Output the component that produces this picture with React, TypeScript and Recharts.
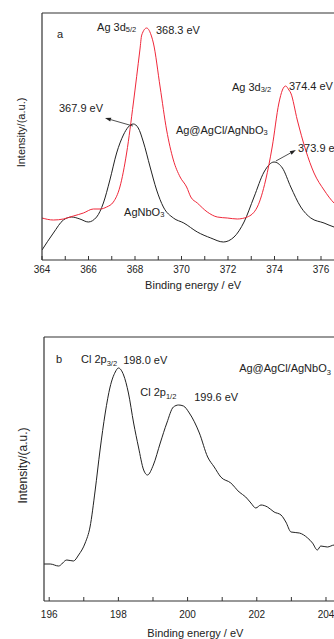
import React from 'react';
import { LineChart, Line, XAxis, YAxis, ReferenceDot, ReferenceLine } from 'recharts';

const FONT = '"Liberation Sans", Arial, sans-serif';
const INK = '#222';

// Ag 3d region (panel a)
const agEnergyBare = [364.0, 364.49, 364.92, 365.28, 365.63, 365.99, 366.35, 366.64, 366.92, 367.21, 367.5, 367.71, 367.93, 368.14, 368.36, 368.65, 368.93, 369.22, 369.65, 370.1, 370.68, 371.26, 371.8, 372.26, 372.69, 373.12, 373.55, 373.98, 374.34, 374.7, 375.13, 375.56, 376.13, 376.56, 377.0];
const agIntensityBare = [10, 27, 40, 43, 41, 38, 43, 57, 80, 107, 125, 133, 136, 132, 118, 93, 70, 53, 42, 37, 28, 22, 18, 23, 38, 63, 88, 98, 92, 73, 53, 42, 37, 33, 31];

const agEnergyComposite = [364.0, 364.49, 364.92, 365.35, 365.78, 366.21, 366.5, 366.78, 367.07, 367.35, 367.64, 367.93, 368.21, 368.29, 368.5, 368.72, 368.79, 369.08, 369.36, 369.65, 369.94, 370.22, 370.4, 370.68, 371.11, 371.54, 371.97, 372.4, 372.83, 373.26, 373.62, 373.9, 374.19, 374.34, 374.48, 374.62, 374.7, 374.98, 375.34, 375.7, 376.13, 376.56, 377.0];
const agIntensityComposite = [42, 40, 41, 44, 47, 51, 51, 53, 58, 73, 107, 157, 210, 225, 232, 223, 217, 173, 130, 100, 83, 73, 63, 57, 48, 43, 42, 41, 43, 53, 80, 113, 157, 170, 174, 170, 167, 140, 110, 87, 70, 57, 50];

const agTicks = [364, 365, 366, 367, 368, 369, 370, 371, 372, 373, 374, 375, 376, 377];

// Cl 2p region (panel b)
const clEnergy = [195.84, 196.03, 196.27, 196.51, 196.7, 196.85, 197.04, 197.18, 197.33, 197.47, 197.62, 197.76, 197.91, 198.0, 198.15, 198.29, 198.44, 198.58, 198.73, 198.84, 199.01, 199.21, 199.4, 199.59, 199.74, 199.88, 200.05, 200.34, 200.58, 200.77, 200.96, 201.25, 201.49, 201.68, 201.83, 201.97, 202.12, 202.31, 202.5, 202.7, 202.84, 202.99, 203.23, 203.47, 203.61, 203.75, 203.85, 204.04, 204.24, 204.6];
const clIntensity = [37, 37, 35, 41, 40, 46, 58, 74, 111, 151, 188, 214, 229, 233, 226, 208, 178, 154, 131, 126, 136, 158, 178, 194, 196, 195, 188, 168, 144, 134, 124, 118, 109, 104, 98, 93, 96, 94, 89, 86, 79, 69, 68, 63, 58, 51, 55, 54, 56, 56];

const clTicks = [196, 197, 198, 199, 200, 201, 202, 203, 204];

type Part = [string, boolean?];
type Note = { e: number; i: number; parts: Part[] };

const agNotes: Note[] = [
  { e: 364.65, i: 222, parts: [['a']] },
  { e: 366.37, i: 229, parts: [['Ag 3d'], ['5/2', true]] },
  { e: 368.9, i: 226, parts: [['368.3 eV']] },
  { e: 372.17, i: 169, parts: [['Ag 3d'], ['3/2', true]] },
  { e: 374.62, i: 170, parts: [['374.4 eV']] },
  { e: 364.73, i: 148, parts: [['367.9 eV']] },
  { e: 369.76, i: 126, parts: [['Ag@AgCl/AgNbO'], ['3', true]] },
  { e: 375.01, i: 108, parts: [['373.9 eV']] },
  { e: 367.53, i: 44, parts: [['AgNbO'], ['3', true]] },
];

const agArrows = [
  { from: [367.91, 134], to: [366.71, 142] },
  { from: [374.06, 99], to: [374.92, 110] },
];

const clNotes: Note[] = [
  { e: 196.2, i: 238, parts: [['b']] },
  { e: 196.92, i: 238, parts: [['Cl 2p'], ['3/2', true]] },
  { e: 198.14, i: 237, parts: [['198.0 eV']] },
  { e: 198.63, i: 205, parts: [['Cl 2p'], ['1/2', true]] },
  { e: 200.19, i: 200, parts: [['199.6 eV']] },
  { e: 201.49, i: 229, parts: [['Ag@AgCl/AgNbO'], ['3', true]] },
];

const rows = (xs: number[], ys: number[]) => xs.map((e, k) => ({ e, v: ys[k] }));

const noteShape = (parts: Part[], subDy: number) => (p: any) => (
  <text x={p.cx} y={p.cy} fontSize={11} fill={INK} fontFamily={FONT}>
    {parts.map(([t, sub], k) =>
      sub ? (
        <tspan key={k} fontSize={7.5} dy={subDy}>{t}</tspan>
      ) : (
        <tspan key={k} dy={k > 0 && parts[k - 1][1] ? -subDy : 0}>{t}</tspan>
      )
    )}
  </text>
);

const arrowShape = (p: any) => {
  const { x1, y1, x2, y2 } = p;
  const dx = x2 - x1;
  const dy = y2 - y1;
  const len = Math.sqrt(dx * dx + dy * dy) || 1;
  const ux = dx / len;
  const uy = dy / len;
  const bx = x2 - ux * 6;
  const by = y2 - uy * 6;
  return (
    <g>
      <line x1={x1} y1={y1} x2={bx} y2={by} stroke={INK} strokeWidth={0.8} />
      <polygon
        points={`${x2},${y2} ${bx - uy * 2},${by + ux * 2} ${bx + uy * 2},${by - ux * 2}`}
        fill={INK}
      />
    </g>
  );
};

const evenTick = (p: any) => {
  if (p.payload.value % 2 !== 0) return <g />;
  return (
    <text x={p.x} y={p.y} dy="0.71em" textAnchor="middle" fontSize={10} fill={INK} fontFamily={FONT}>
      {p.payload.value}
    </text>
  );
};

const yTitle = (baseX: number, shift: number, size: number) => (p: any) => {
  const vb = p.viewBox;
  const cy = vb.y + vb.height / 2 + shift;
  return (
    <text
      transform={`translate(${baseX},${cy}) rotate(-90)`}
      textAnchor="middle"
      fontSize={size}
      fill={INK}
      fontFamily={FONT}
    >
      Intensity/(a.u.)
    </text>
  );
};

interface PanelProps {
  width: number;
  height: number;
  margin: { top: number; left: number; right: number; bottom: number };
  domain: [number, number];
  yMax: number;
  ticks: number[];
  axisHeight: number;
  tickMargin: number;
  titleOffset: number;
  yTitleX: number;
  yTitleShift: number;
  yTitleSize: number;
  series: { data: { e: number; v: number }[]; color: string }[];
  notes: Note[];
  subDy: number;
  arrows: { from: number[]; to: number[] }[];
}

const frame = { stroke: '#333', strokeWidth: 1.2 };

const Panel: React.FC<PanelProps> = (props) => (
  <LineChart width={props.width} height={props.height} margin={props.margin}>
    <XAxis
      dataKey="e"
      type="number"
      domain={props.domain}
      allowDataOverflow
      ticks={props.ticks}
      interval={0}
      height={props.axisHeight}
      tickSize={-4}
      tickMargin={props.tickMargin}
      tick={evenTick}
      axisLine={frame}
      tickLine={{ stroke: '#333' }}
      label={{
        value: 'Binding energy / eV',
        position: 'insideBottom',
        offset: props.titleOffset,
        fontSize: 11,
        fill: INK,
        fontFamily: FONT,
      }}
    />
    <XAxis
      xAxisId="top"
      orientation="top"
      dataKey="e"
      type="number"
      domain={props.domain}
      allowDataOverflow
      height={1}
      ticks={props.ticks}
      tick={false}
      tickLine={false}
      axisLine={frame}
    />
    <YAxis
      type="number"
      domain={[0, props.yMax]}
      allowDataOverflow
      width={1}
      ticks={[0, props.yMax]}
      tick={false}
      tickLine={false}
      axisLine={frame}
      label={yTitle(props.yTitleX, props.yTitleShift, props.yTitleSize) as any}
    />
    {props.series.map((s, k) => (
      <Line
        key={k}
        data={s.data}
        dataKey="v"
        type="monotone"
        stroke={s.color}
        strokeWidth={1}
        dot={false}
        activeDot={false}
        isAnimationActive={false}
      />
    ))}
    {props.arrows.map((a, k) => (
      <ReferenceLine
        key={`ar-${k}`}
        segment={[
          { x: a.from[0], y: a.from[1] },
          { x: a.to[0], y: a.to[1] },
        ]}
        shape={arrowShape}
      />
    ))}
    {props.notes.map((n, k) => (
      <ReferenceDot key={`n-${k}`} x={n.e} y={n.i} r={0} shape={noteShape(n.parts, props.subDy)} />
    ))}
  </LineChart>
);

export default function App() {
  return (
    <div
      style={{
        position: 'fixed',
        left: 0,
        top: 0,
        width: 334,
        height: 639,
        overflow: 'hidden',
        background: '#fff',
      }}
    >
      <div style={{ position: 'absolute', left: 0, top: 0 }}>
        <Panel
          width={355}
          height={300}
          margin={{ top: 12, left: 41, right: 10.75, bottom: 0 }}
          domain={[364, 377]}
          yMax={247}
          ticks={agTicks}
          axisHeight={40}
          tickMargin={9.5}
          titleOffset={11}
          yTitleX={25}
          yTitleShift={-4}
          yTitleSize={11}
          series={[
            { data: rows(agEnergyBare, agIntensityBare), color: '#222' },
            { data: rows(agEnergyComposite, agIntensityComposite), color: '#f0283a' },
          ]}
          notes={agNotes}
          subDy={1}
          arrows={agArrows}
        />
      </div>
      <div style={{ position: 'absolute', left: 0, top: 320 }}>
        <Panel
          width={357}
          height={319}
          margin={{ top: 16, left: 43, right: 10.25, bottom: 0 }}
          domain={[195.85, 204.6]}
          yMax={264}
          ticks={clTicks}
          axisHeight={38}
          tickMargin={13.5}
          titleOffset={2.5}
          yTitleX={27}
          yTitleShift={-3.5}
          yTitleSize={12}
          series={[{ data: rows(clEnergy, clIntensity), color: '#222' }]}
          notes={clNotes}
          subDy={3}
          arrows={[]}
        />
      </div>
    </div>
  );
}
